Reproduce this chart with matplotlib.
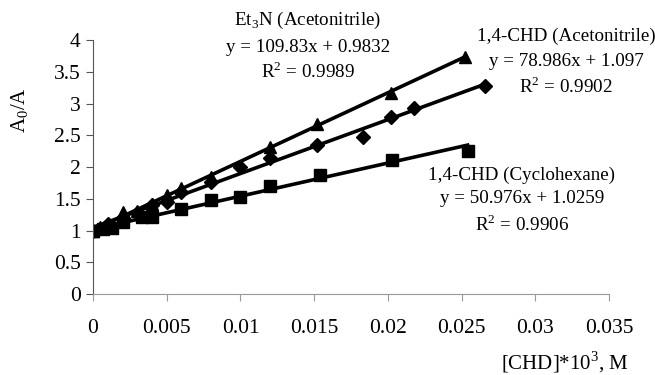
import numpy as np
import matplotlib.pyplot as plt

plt.rcParams['font.family'] = ['Liberation Serif', 'DejaVu Serif']
plt.rcParams['mathtext.fontset'] = 'custom'
plt.rcParams['mathtext.rm'] = 'Liberation Serif'

# Et3N (Acetonitrile)
et3n_x = [0, 0.0005, 0.001, 0.002, 0.003, 0.004, 0.005, 0.006, 0.008, 0.012, 0.0152, 0.0202, 0.0252]
et3n_y = [1.0, 1.06, 1.10, 1.29, 1.30, 1.42, 1.56, 1.67, 1.84, 2.31, 2.68, 3.17, 3.74]
# 1,4-CHD (Acetonitrile)
chd_acn_x = [0, 0.001, 0.002, 0.003, 0.004, 0.005, 0.006, 0.008, 0.010, 0.012, 0.0152, 0.0183, 0.0202, 0.0218, 0.0266]
chd_acn_y = [1.0, 1.10, 1.20, 1.28, 1.40, 1.45, 1.60, 1.76, 2.00, 2.14, 2.35, 2.47, 2.79, 2.93, 3.27]
# 1,4-CHD (Cyclohexane)
chd_cy_x = [0, 0.0007, 0.0013, 0.002, 0.0033, 0.004, 0.006, 0.008, 0.010, 0.012, 0.0154, 0.0203, 0.0254]
chd_cy_y = [1.0, 1.03, 1.04, 1.13, 1.21, 1.21, 1.34, 1.48, 1.53, 1.70, 1.87, 2.11, 2.26]

fig = plt.figure(figsize=(6.55, 3.75), dpi=100)
ax = fig.add_axes([0.142, 0.216, 0.788, 0.677])

series = [(et3n_x, et3n_y, '^', 9),
          (chd_acn_x, chd_acn_y, 'D', 7),
          (chd_cy_x, chd_cy_y, 's', 8)]
for xs, ys, m, ms in series:
    ax.plot(xs, ys, linestyle='none', marker=m, color='black', markersize=ms)
    k, b = np.polyfit(xs, ys, 1)
    xx = np.array([0, max(xs)])
    ax.plot(xx, k * xx + b, color='black', linewidth=2.6)

ax.set_xlim(0, 0.035)
ax.set_ylim(0, 4)
ax.set_xticks(np.arange(0, 0.0351, 0.005))
ax.set_xticklabels(['0', '0.005', '0.01', '0.015', '0.02', '0.025', '0.03', '0.035'])
ax.set_yticks(np.arange(0, 4.01, 0.5))
ax.set_yticklabels(['0', '0.5', '1', '1.5', '2', '2.5', '3', '3.5', '4'])
ax.spines['top'].set_visible(False)
ax.spines['right'].set_visible(False)
ax.spines['left'].set_color('#555555')
ax.spines['bottom'].set_color('#999999')
ax.tick_params(axis='both', direction='out', labelsize=15.5, length=5, colors='black')
ax.tick_params(axis='y', color='#555555', pad=4)
ax.tick_params(axis='x', color='#999999', pad=13)

fig.text(20 / 655, 1 - 110 / 375, r'A$_0$/A', rotation=90, fontsize=15, ha='center', va='center')
fig.text(565 / 655, 1 - 362 / 375, r'[CHD]*10$^3$, M', fontsize=15, ha='center', va='center')

fs = 13.7
fig.text(308 / 655, 1 - 20 / 375, r'Et$_3$N (Acetonitrile)', fontsize=fs, ha='center', va='center')
fig.text(308 / 655, 1 - 47 / 375, 'y = 109.83x + 0.9832', fontsize=fs, ha='center', va='center')
fig.text(308 / 655, 1 - 72 / 375, r'R$^2$ = 0.9989', fontsize=fs, ha='center', va='center')

fig.text(566 / 655, 1 - 36 / 375, '1,4-CHD (Acetonitrile)', fontsize=fs, ha='center', va='center')
fig.text(566 / 655, 1 - 62 / 375, 'y = 78.986x + 1.097', fontsize=fs, ha='center', va='center')
fig.text(566 / 655, 1 - 87 / 375, r'R$^2$ = 0.9902', fontsize=fs, ha='center', va='center')

fig.text(522 / 655, 1 - 175 / 375, '1,4-CHD (Cyclohexane)', fontsize=fs, ha='center', va='center')
fig.text(522 / 655, 1 - 199 / 375, 'y = 50.976x + 1.0259', fontsize=fs, ha='center', va='center')
fig.text(522 / 655, 1 - 225 / 375, r'R$^2$ = 0.9906', fontsize=fs, ha='center', va='center')

fig.savefig('out.png', dpi=100)
